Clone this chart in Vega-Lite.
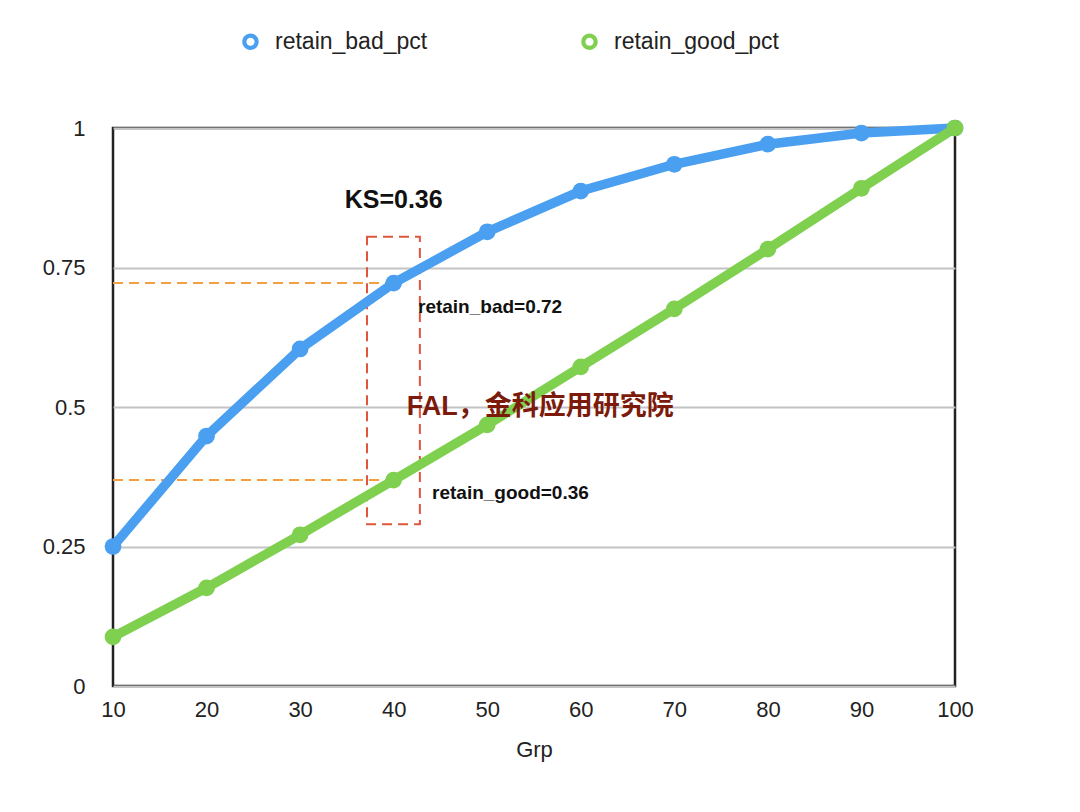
{
  "$schema": "https://vega.github.io/schema/vega-lite/v6.json",
  "width": 842,
  "height": 558,
  "autosize": {"type": "none"},
  "padding": {"left": 113, "top": 128, "right": 125, "bottom": 126},
  "background": "white",
  "config": {
    "font": "Liberation Sans, Noto Sans CJK SC",
    "view": {"stroke": "#222222", "strokeWidth": 2.5},
    "axis": {"labelFont": "Liberation Sans", "titleFont": "Liberation Sans", "labelFontSize": 22, "titleFontSize": 22, "labelColor": "#222", "titleColor": "#222", "ticks": false, "domain": false, "titleFontWeight": "normal"}
  },
  "datasets": {
    "curves": [
      {"Grp": 10, "series": "retain_bad_pct", "value": 0.25},
      {"Grp": 20, "series": "retain_bad_pct", "value": 0.448},
      {"Grp": 30, "series": "retain_bad_pct", "value": 0.604},
      {"Grp": 40, "series": "retain_bad_pct", "value": 0.722},
      {"Grp": 50, "series": "retain_bad_pct", "value": 0.814},
      {"Grp": 60, "series": "retain_bad_pct", "value": 0.887},
      {"Grp": 70, "series": "retain_bad_pct", "value": 0.935},
      {"Grp": 80, "series": "retain_bad_pct", "value": 0.971},
      {"Grp": 90, "series": "retain_bad_pct", "value": 0.991},
      {"Grp": 100, "series": "retain_bad_pct", "value": 1.0},
      {"Grp": 10, "series": "retain_good_pct", "value": 0.088},
      {"Grp": 20, "series": "retain_good_pct", "value": 0.176},
      {"Grp": 30, "series": "retain_good_pct", "value": 0.271},
      {"Grp": 40, "series": "retain_good_pct", "value": 0.369},
      {"Grp": 50, "series": "retain_good_pct", "value": 0.468},
      {"Grp": 60, "series": "retain_good_pct", "value": 0.572},
      {"Grp": 70, "series": "retain_good_pct", "value": 0.676},
      {"Grp": 80, "series": "retain_good_pct", "value": 0.783},
      {"Grp": 90, "series": "retain_good_pct", "value": 0.892},
      {"Grp": 100, "series": "retain_good_pct", "value": 1.0}
    ],
    "guides": [
      {"x1": 10, "x2": 40, "y": 0.722},
      {"x1": 10, "x2": 40, "y": 0.369}
    ],
    "box": [
      {"x1": 37.15, "x2": 42.8, "y1": 0.29, "y2": 0.805}
    ],
    "labels": [
      {"x": 40, "y": 0.871, "label": "KS=0.36"}
    ],
    "smallLabels": [
      {"x": 42.6, "y": 0.679, "label": "retain_bad=0.72"},
      {"x": 44.1, "y": 0.346, "label": "retain_good=0.36"}
    ],
    "watermark": [
      {"x": 41.4, "y": 0.5, "label": "FAL，金科应用研究院"}
    ]
  },
  "layer": [
    {
      "data": {"name": "guides"},
      "mark": {"type": "rule", "color": "#f0a040", "strokeWidth": 2, "strokeDash": [10, 6]},
      "encoding": {
        "x": {"field": "x1", "type": "quantitative", "scale": {"domain": [10, 100], "nice": false, "zero": false}, "axis": {"values": [10, 20, 30, 40, 50, 60, 70, 80, 90, 100], "title": "Grp", "grid": false, "labelPadding": 13, "titlePadding": 19, "labelFlush": false}},
        "x2": {"field": "x2"},
        "y": {"field": "y", "type": "quantitative", "scale": {"domain": [0, 1], "nice": false}, "axis": {"values": [0, 0.25, 0.5, 0.75, 1], "labelExpr": "datum.value + ''", "title": null, "grid": true, "gridColor": "#c4c4c4", "gridWidth": 2, "labelPadding": 28, "labelFlush": false}}
      }
    },
    {
      "data": {"name": "box"},
      "mark": {"type": "rect", "fill": null, "fillOpacity": 0, "stroke": "#e0553e", "strokeWidth": 2, "strokeDash": [10, 6]},
      "encoding": {
        "x": {"field": "x1", "type": "quantitative"},
        "x2": {"field": "x2"},
        "y": {"field": "y1", "type": "quantitative"},
        "y2": {"field": "y2"}
      }
    },
    {
      "data": {"name": "curves"},
      "mark": {"type": "line", "strokeWidth": 9.5},
      "encoding": {
        "x": {"field": "Grp", "type": "quantitative"},
        "y": {"field": "value", "type": "quantitative"},
        "color": {
          "field": "series", "type": "nominal",
          "scale": {"domain": ["retain_bad_pct", "retain_good_pct"], "range": ["#4a9ff0", "#7fd04f"]},
          "legend": {
            "title": null, "orient": "none", "legendX": 126, "legendY": -98, "direction": "horizontal",
            "symbolType": "M-1,0A1,1,0,1,1,1,0A1,1,0,1,1,-1,0Z M-0.5,0A0.5,0.5,0,1,0,0.5,0A0.5,0.5,0,1,0,-0.5,0Z",
            "symbolStrokeWidth": 0, "symbolSize": 270,
            "labelFontSize": 23, "labelFont": "Liberation Sans", "labelColor": "#222", "labelOffset": 13,
            "columnPadding": 150, "labelLimit": 300
          }
        }
      }
    },
    {
      "data": {"name": "curves"},
      "mark": {"type": "circle", "size": 280, "opacity": 1},
      "encoding": {
        "x": {"field": "Grp", "type": "quantitative"},
        "y": {"field": "value", "type": "quantitative"},
        "fill": {"field": "series", "type": "nominal", "legend": null, "scale": {"domain": ["retain_bad_pct", "retain_good_pct"], "range": ["#4a9ff0", "#7fd04f"]}}
      }
    },
    {
      "data": {"name": "labels"},
      "mark": {"type": "text", "fontSize": 25, "fontWeight": "bold", "color": "#111", "align": "center", "baseline": "middle", "font": "Liberation Sans"},
      "encoding": {
        "x": {"field": "x", "type": "quantitative"},
        "y": {"field": "y", "type": "quantitative"},
        "text": {"field": "label"}
      }
    },
    {
      "data": {"name": "smallLabels"},
      "mark": {"type": "text", "fontSize": 19, "fontWeight": "bold", "color": "#111", "align": "left", "baseline": "middle", "font": "Liberation Sans"},
      "encoding": {
        "x": {"field": "x", "type": "quantitative"},
        "y": {"field": "y", "type": "quantitative"},
        "text": {"field": "label"}
      }
    },
    {
      "data": {"name": "watermark"},
      "mark": {"type": "text", "fontSize": 27, "fontWeight": "bold", "color": "#7c1a0c", "align": "left", "baseline": "middle", "font": "Liberation Sans, Noto Sans CJK SC"},
      "encoding": {
        "x": {"field": "x", "type": "quantitative"},
        "y": {"field": "y", "type": "quantitative"},
        "text": {"field": "label"}
      }
    }
  ]
}
